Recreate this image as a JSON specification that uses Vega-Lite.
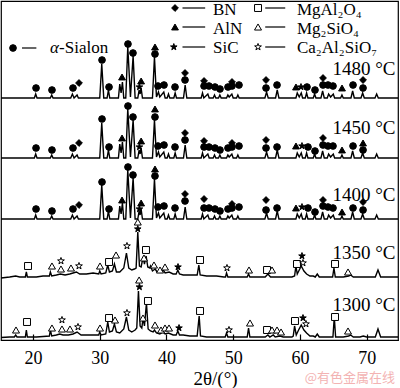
{
"$schema":"https://vega.github.io/schema/vega-lite/v6.json",
"width":397,"height":339,
"autosize":{"type":"none"},
"padding":{"left":1,"top":1,"right":2,"bottom":48},
"background":"white",
"config":{"view":{"stroke":"black","strokeWidth":1.2},"font":"Liberation Serif"},
"datasets":{
"lines":[
{"s":"1480","x":15.2,"y":242},{"s":"1480","x":20.2,"y":242},{"s":"1480","x":20.4,"y":246},{"s":"1480","x":20.6,"y":242},{"s":"1480","x":22.6,"y":242},{"s":"1480","x":22.8,"y":245},{"s":"1480","x":23.0,"y":242},{"s":"1480","x":25.65,"y":242},{"s":"1480","x":25.9,"y":246},{"s":"1480","x":26.15,"y":242},{"s":"1480","x":26.6,"y":245},{"s":"1480","x":26.8,"y":242},{"s":"1480","x":30.0,"y":242},{"s":"1480","x":30.3,"y":276},{"s":"1480","x":30.6,"y":242},{"s":"1480","x":31.1,"y":242},{"s":"1480","x":31.3,"y":250},{"s":"1480","x":31.5,"y":242},{"s":"1480","x":32.8,"y":242},{"s":"1480","x":33.0,"y":256},{"s":"1480","x":33.2,"y":247},{"s":"1480","x":33.4,"y":258},{"s":"1480","x":33.6,"y":242},{"s":"1480","x":33.9,"y":242},{"s":"1480","x":34.2,"y":293},{"s":"1480","x":34.6,"y":243},{"s":"1480","x":35.0,"y":284},{"s":"1480","x":35.3,"y":242},{"s":"1480","x":35.7,"y":242},{"s":"1480","x":35.9,"y":250},{"s":"1480","x":36.05,"y":246},{"s":"1480","x":36.2,"y":252},{"s":"1480","x":36.4,"y":242},{"s":"1480","x":37.9,"y":242},{"s":"1480","x":38.2,"y":283},{"s":"1480","x":38.5,"y":243},{"s":"1480","x":38.8,"y":248},{"s":"1480","x":39.0,"y":243},{"s":"1480","x":39.6,"y":248},{"s":"1480","x":39.8,"y":242},{"s":"1480","x":40.1,"y":242},{"s":"1480","x":40.3,"y":246},{"s":"1480","x":40.5,"y":242},{"s":"1480","x":41.1,"y":242},{"s":"1480","x":41.3,"y":247},{"s":"1480","x":41.5,"y":242},{"s":"1480","x":42.55,"y":242},{"s":"1480","x":42.8,"y":255},{"s":"1480","x":43.05,"y":242},{"s":"1480","x":45.2,"y":242},{"s":"1480","x":45.4,"y":247},{"s":"1480","x":45.6,"y":242},{"s":"1480","x":46.2,"y":246},{"s":"1480","x":46.4,"y":242},{"s":"1480","x":47.0,"y":242},{"s":"1480","x":47.2,"y":245},{"s":"1480","x":47.4,"y":242},{"s":"1480","x":47.8,"y":242},{"s":"1480","x":48.0,"y":245},{"s":"1480","x":48.2,"y":242},{"s":"1480","x":49.0,"y":242},{"s":"1480","x":49.2,"y":245},{"s":"1480","x":49.4,"y":243},{"s":"1480","x":49.8,"y":246},{"s":"1480","x":50.0,"y":242},{"s":"1480","x":50.5,"y":242},{"s":"1480","x":50.7,"y":245},{"s":"1480","x":50.9,"y":242},{"s":"1480","x":54.75,"y":242},{"s":"1480","x":55.0,"y":248},{"s":"1480","x":55.25,"y":242},{"s":"1480","x":56.35,"y":242},{"s":"1480","x":56.6,"y":250},{"s":"1480","x":56.85,"y":242},{"s":"1480","x":59.4,"y":242},{"s":"1480","x":59.6,"y":247},{"s":"1480","x":59.9,"y":243},{"s":"1480","x":60.2,"y":247},{"s":"1480","x":60.4,"y":242},{"s":"1480","x":60.8,"y":242},{"s":"1480","x":61.0,"y":247},{"s":"1480","x":61.2,"y":242},{"s":"1480","x":62.0,"y":242},{"s":"1480","x":62.2,"y":246},{"s":"1480","x":62.4,"y":242},{"s":"1480","x":63.15,"y":242},{"s":"1480","x":63.4,"y":249},{"s":"1480","x":63.65,"y":242},{"s":"1480","x":64.1,"y":242},{"s":"1480","x":64.3,"y":246},{"s":"1480","x":64.6,"y":243},{"s":"1480","x":65.0,"y":246},{"s":"1480","x":65.2,"y":242},{"s":"1480","x":66.1,"y":242},{"s":"1480","x":66.3,"y":245},{"s":"1480","x":66.5,"y":242},{"s":"1480","x":67.65,"y":242},{"s":"1480","x":67.9,"y":249},{"s":"1480","x":68.15,"y":242},{"s":"1480","x":69.15,"y":242},{"s":"1480","x":69.4,"y":247},{"s":"1480","x":69.65,"y":242},{"s":"1480","x":71.25,"y":242},{"s":"1480","x":71.5,"y":246},{"s":"1480","x":71.75,"y":242},{"s":"1480","x":74.7,"y":242},
{"s":"1450","x":15.2,"y":182},{"s":"1450","x":20.2,"y":182},{"s":"1450","x":20.4,"y":186},{"s":"1450","x":20.6,"y":182},{"s":"1450","x":22.6,"y":182},{"s":"1450","x":22.8,"y":185},{"s":"1450","x":23.0,"y":182},{"s":"1450","x":25.65,"y":182},{"s":"1450","x":25.9,"y":186},{"s":"1450","x":26.15,"y":182},{"s":"1450","x":26.6,"y":185},{"s":"1450","x":26.8,"y":182},{"s":"1450","x":30.0,"y":182},{"s":"1450","x":30.3,"y":217},{"s":"1450","x":30.6,"y":182},{"s":"1450","x":31.1,"y":182},{"s":"1450","x":31.3,"y":190},{"s":"1450","x":31.5,"y":182},{"s":"1450","x":32.8,"y":182},{"s":"1450","x":33.0,"y":196},{"s":"1450","x":33.2,"y":187},{"s":"1450","x":33.4,"y":198},{"s":"1450","x":33.6,"y":182},{"s":"1450","x":33.9,"y":182},{"s":"1450","x":34.2,"y":231},{"s":"1450","x":34.6,"y":183},{"s":"1450","x":35.0,"y":220},{"s":"1450","x":35.3,"y":182},{"s":"1450","x":35.7,"y":182},{"s":"1450","x":35.9,"y":190},{"s":"1450","x":36.05,"y":186},{"s":"1450","x":36.2,"y":192},{"s":"1450","x":36.4,"y":182},{"s":"1450","x":37.9,"y":182},{"s":"1450","x":38.2,"y":220},{"s":"1450","x":38.5,"y":183},{"s":"1450","x":38.8,"y":188},{"s":"1450","x":39.0,"y":183},{"s":"1450","x":39.6,"y":188},{"s":"1450","x":39.8,"y":182},{"s":"1450","x":40.1,"y":182},{"s":"1450","x":40.3,"y":186},{"s":"1450","x":40.5,"y":182},{"s":"1450","x":41.1,"y":182},{"s":"1450","x":41.3,"y":187},{"s":"1450","x":41.5,"y":182},{"s":"1450","x":42.55,"y":182},{"s":"1450","x":42.8,"y":195},{"s":"1450","x":43.05,"y":182},{"s":"1450","x":45.2,"y":182},{"s":"1450","x":45.4,"y":187},{"s":"1450","x":45.6,"y":182},{"s":"1450","x":46.2,"y":186},{"s":"1450","x":46.4,"y":182},{"s":"1450","x":47.0,"y":182},{"s":"1450","x":47.2,"y":185},{"s":"1450","x":47.4,"y":182},{"s":"1450","x":47.8,"y":182},{"s":"1450","x":48.0,"y":185},{"s":"1450","x":48.2,"y":182},{"s":"1450","x":49.0,"y":182},{"s":"1450","x":49.2,"y":185},{"s":"1450","x":49.4,"y":183},{"s":"1450","x":49.8,"y":186},{"s":"1450","x":50.0,"y":182},{"s":"1450","x":50.5,"y":182},{"s":"1450","x":50.7,"y":185},{"s":"1450","x":50.9,"y":182},{"s":"1450","x":54.75,"y":182},{"s":"1450","x":55.0,"y":188},{"s":"1450","x":55.25,"y":182},{"s":"1450","x":56.35,"y":182},{"s":"1450","x":56.6,"y":190},{"s":"1450","x":56.85,"y":182},{"s":"1450","x":59.4,"y":182},{"s":"1450","x":59.6,"y":187},{"s":"1450","x":59.9,"y":183},{"s":"1450","x":60.2,"y":187},{"s":"1450","x":60.4,"y":182},{"s":"1450","x":60.8,"y":182},{"s":"1450","x":61.0,"y":187},{"s":"1450","x":61.2,"y":182},{"s":"1450","x":62.0,"y":182},{"s":"1450","x":62.2,"y":186},{"s":"1450","x":62.4,"y":182},{"s":"1450","x":63.15,"y":182},{"s":"1450","x":63.4,"y":189},{"s":"1450","x":63.65,"y":182},{"s":"1450","x":64.1,"y":182},{"s":"1450","x":64.3,"y":186},{"s":"1450","x":64.6,"y":183},{"s":"1450","x":65.0,"y":186},{"s":"1450","x":65.2,"y":182},{"s":"1450","x":66.1,"y":182},{"s":"1450","x":66.3,"y":185},{"s":"1450","x":66.5,"y":182},{"s":"1450","x":67.65,"y":182},{"s":"1450","x":67.9,"y":189},{"s":"1450","x":68.15,"y":182},{"s":"1450","x":69.15,"y":182},{"s":"1450","x":69.4,"y":187},{"s":"1450","x":69.65,"y":182},{"s":"1450","x":71.25,"y":182},{"s":"1450","x":71.5,"y":186},{"s":"1450","x":71.75,"y":182},{"s":"1450","x":74.7,"y":182},
{"s":"1400","x":15.2,"y":121},{"s":"1400","x":20.2,"y":121},{"s":"1400","x":20.4,"y":125},{"s":"1400","x":20.6,"y":121},{"s":"1400","x":22.6,"y":121},{"s":"1400","x":22.8,"y":124},{"s":"1400","x":23.0,"y":121},{"s":"1400","x":25.65,"y":121},{"s":"1400","x":25.9,"y":125},{"s":"1400","x":26.15,"y":121},{"s":"1400","x":26.6,"y":124},{"s":"1400","x":26.8,"y":121},{"s":"1400","x":30.0,"y":121},{"s":"1400","x":30.3,"y":155},{"s":"1400","x":30.6,"y":121},{"s":"1400","x":31.1,"y":121},{"s":"1400","x":31.3,"y":129},{"s":"1400","x":31.5,"y":121},{"s":"1400","x":32.8,"y":121},{"s":"1400","x":33.0,"y":134},{"s":"1400","x":33.2,"y":126},{"s":"1400","x":33.4,"y":137},{"s":"1400","x":33.6,"y":121},{"s":"1400","x":33.9,"y":121},{"s":"1400","x":34.2,"y":170},{"s":"1400","x":34.6,"y":122},{"s":"1400","x":35.0,"y":162},{"s":"1400","x":35.3,"y":121},{"s":"1400","x":35.7,"y":121},{"s":"1400","x":35.9,"y":129},{"s":"1400","x":36.05,"y":125},{"s":"1400","x":36.2,"y":131},{"s":"1400","x":36.4,"y":121},{"s":"1400","x":37.9,"y":121},{"s":"1400","x":38.2,"y":161},{"s":"1400","x":38.5,"y":122},{"s":"1400","x":38.8,"y":127},{"s":"1400","x":39.0,"y":122},{"s":"1400","x":39.6,"y":127},{"s":"1400","x":39.8,"y":121},{"s":"1400","x":40.1,"y":121},{"s":"1400","x":40.3,"y":125},{"s":"1400","x":40.5,"y":121},{"s":"1400","x":41.1,"y":121},{"s":"1400","x":41.3,"y":126},{"s":"1400","x":41.5,"y":121},{"s":"1400","x":42.55,"y":121},{"s":"1400","x":42.8,"y":133},{"s":"1400","x":43.05,"y":121},{"s":"1400","x":45.2,"y":121},{"s":"1400","x":45.4,"y":126},{"s":"1400","x":45.6,"y":121},{"s":"1400","x":46.2,"y":125},{"s":"1400","x":46.4,"y":121},{"s":"1400","x":47.0,"y":121},{"s":"1400","x":47.2,"y":124},{"s":"1400","x":47.4,"y":121},{"s":"1400","x":47.8,"y":121},{"s":"1400","x":48.0,"y":124},{"s":"1400","x":48.2,"y":121},{"s":"1400","x":49.0,"y":121},{"s":"1400","x":49.2,"y":124},{"s":"1400","x":49.4,"y":122},{"s":"1400","x":49.8,"y":125},{"s":"1400","x":50.0,"y":121},{"s":"1400","x":50.5,"y":121},{"s":"1400","x":50.7,"y":124},{"s":"1400","x":50.9,"y":121},{"s":"1400","x":54.75,"y":121},{"s":"1400","x":55.0,"y":127},{"s":"1400","x":55.25,"y":121},{"s":"1400","x":56.35,"y":121},{"s":"1400","x":56.6,"y":129},{"s":"1400","x":56.85,"y":121},{"s":"1400","x":59.4,"y":121},{"s":"1400","x":59.6,"y":126},{"s":"1400","x":59.9,"y":122},{"s":"1400","x":60.2,"y":126},{"s":"1400","x":60.4,"y":121},{"s":"1400","x":60.8,"y":121},{"s":"1400","x":61.0,"y":126},{"s":"1400","x":61.2,"y":121},{"s":"1400","x":62.0,"y":121},{"s":"1400","x":62.2,"y":125},{"s":"1400","x":62.4,"y":121},{"s":"1400","x":63.15,"y":121},{"s":"1400","x":63.4,"y":128},{"s":"1400","x":63.65,"y":121},{"s":"1400","x":64.1,"y":121},{"s":"1400","x":64.3,"y":125},{"s":"1400","x":64.6,"y":122},{"s":"1400","x":65.0,"y":125},{"s":"1400","x":65.2,"y":121},{"s":"1400","x":66.1,"y":121},{"s":"1400","x":66.3,"y":124},{"s":"1400","x":66.5,"y":121},{"s":"1400","x":67.65,"y":121},{"s":"1400","x":67.9,"y":128},{"s":"1400","x":68.15,"y":121},{"s":"1400","x":69.15,"y":121},{"s":"1400","x":69.4,"y":126},{"s":"1400","x":69.65,"y":121},{"s":"1400","x":71.25,"y":121},{"s":"1400","x":71.5,"y":125},{"s":"1400","x":71.75,"y":121},{"s":"1400","x":74.7,"y":121},
{"s":"1350","x":15.2,"y":62},{"s":"1350","x":16.5,"y":63},{"s":"1350","x":17.4,"y":64},{"s":"1350","x":18.0,"y":63},{"s":"1350","x":18.85,"y":63},{"s":"1350","x":19.0,"y":68},{"s":"1350","x":19.15,"y":63},{"s":"1350","x":20.5,"y":63},{"s":"1350","x":21.5,"y":64},{"s":"1350","x":22.45,"y":64},{"s":"1350","x":22.6,"y":68},{"s":"1350","x":22.8,"y":64},{"s":"1350","x":23.5,"y":65},{"s":"1350","x":24.1,"y":66},{"s":"1350","x":24.8,"y":65},{"s":"1350","x":25.5,"y":66},{"s":"1350","x":26.0,"y":67},{"s":"1350","x":26.5,"y":68},{"s":"1350","x":27.0,"y":66},{"s":"1350","x":28.0,"y":66},{"s":"1350","x":29.0,"y":67},{"s":"1350","x":29.85,"y":66},{"s":"1350","x":30.0,"y":69},{"s":"1350","x":30.2,"y":66},{"s":"1350","x":30.9,"y":67},{"s":"1350","x":31.2,"y":75},{"s":"1350","x":31.45,"y":68},{"s":"1350","x":31.9,"y":69},{"s":"1350","x":32.2,"y":76},{"s":"1350","x":32.5,"y":68},{"s":"1350","x":33.0,"y":68},{"s":"1350","x":33.6,"y":72},{"s":"1350","x":34.0,"y":87},{"s":"1350","x":34.35,"y":72},{"s":"1350","x":34.8,"y":70},{"s":"1350","x":35.2,"y":71},{"s":"1350","x":35.45,"y":72},{"s":"1350","x":35.7,"y":108},{"s":"1350","x":35.95,"y":74},{"s":"1350","x":36.2,"y":73},{"s":"1350","x":36.5,"y":83},{"s":"1350","x":36.7,"y":76},{"s":"1350","x":36.95,"y":84},{"s":"1350","x":37.2,"y":73},{"s":"1350","x":37.5,"y":72},{"s":"1350","x":37.6,"y":74},{"s":"1350","x":37.9,"y":69},{"s":"1350","x":38.3,"y":71},{"s":"1350","x":38.6,"y":68},{"s":"1350","x":39.0,"y":68},{"s":"1350","x":39.5,"y":70},{"s":"1350","x":39.8,"y":67},{"s":"1350","x":40.4,"y":68},{"s":"1350","x":41.0,"y":66},{"s":"1350","x":41.45,"y":66},{"s":"1350","x":41.7,"y":70},{"s":"1350","x":41.95,"y":66},{"s":"1350","x":42.5,"y":65},{"s":"1350","x":43.5,"y":65},{"s":"1350","x":44.6,"y":65},{"s":"1350","x":44.85,"y":75},{"s":"1350","x":45.05,"y":65},{"s":"1350","x":46.0,"y":64},{"s":"1350","x":47.5,"y":64},{"s":"1350","x":48.6,"y":63},{"s":"1350","x":48.85,"y":63},{"s":"1350","x":49.0,"y":67},{"s":"1350","x":49.2,"y":63},{"s":"1350","x":50.5,"y":63},{"s":"1350","x":51.5,"y":63},{"s":"1350","x":52.1,"y":63},{"s":"1350","x":52.3,"y":66},{"s":"1350","x":52.5,"y":63},{"s":"1350","x":53.5,"y":63},{"s":"1350","x":54.8,"y":63},{"s":"1350","x":55.2,"y":66},{"s":"1350","x":55.6,"y":63},{"s":"1350","x":56.5,"y":63},{"s":"1350","x":57.5,"y":63},{"s":"1350","x":58.8,"y":63},{"s":"1350","x":59.2,"y":64},{"s":"1350","x":59.4,"y":74},{"s":"1350","x":59.6,"y":66},{"s":"1350","x":59.9,"y":70},{"s":"1350","x":60.2,"y":74},{"s":"1350","x":60.6,"y":69},{"s":"1350","x":61.0,"y":66},{"s":"1350","x":61.5,"y":64},{"s":"1350","x":62.0,"y":64},{"s":"1350","x":62.3,"y":63},{"s":"1350","x":62.6,"y":66},{"s":"1350","x":62.9,"y":63},{"s":"1350","x":64.0,"y":63},{"s":"1350","x":64.9,"y":63},{"s":"1350","x":65.1,"y":72},{"s":"1350","x":65.3,"y":63},{"s":"1350","x":66.5,"y":63},{"s":"1350","x":67.3,"y":64},{"s":"1350","x":67.6,"y":65},{"s":"1350","x":68.0,"y":63},{"s":"1350","x":69.0,"y":63},{"s":"1350","x":70.0,"y":63},{"s":"1350","x":71.3,"y":63},{"s":"1350","x":71.7,"y":70},{"s":"1350","x":72.1,"y":63},{"s":"1350","x":73.5,"y":63},{"s":"1350","x":74.7,"y":63},
{"s":"1300","x":15.2,"y":2.5},{"s":"1300","x":16.5,"y":3},{"s":"1300","x":17.2,"y":3},{"s":"1300","x":17.4,"y":5},{"s":"1300","x":17.6,"y":3},{"s":"1300","x":18.85,"y":3},{"s":"1300","x":19.0,"y":10},{"s":"1300","x":19.15,"y":3},{"s":"1300","x":20.5,"y":3},{"s":"1300","x":21.5,"y":3.5},{"s":"1300","x":22.45,"y":4},{"s":"1300","x":22.6,"y":10},{"s":"1300","x":22.8,"y":4},{"s":"1300","x":23.5,"y":5},{"s":"1300","x":24.0,"y":6},{"s":"1300","x":24.5,"y":5},{"s":"1300","x":25.3,"y":5},{"s":"1300","x":26.0,"y":6},{"s":"1300","x":26.6,"y":8},{"s":"1300","x":27.2,"y":5},{"s":"1300","x":28.5,"y":5},{"s":"1300","x":29.5,"y":5},{"s":"1300","x":29.85,"y":5},{"s":"1300","x":30.0,"y":8},{"s":"1300","x":30.2,"y":5},{"s":"1300","x":30.9,"y":6},{"s":"1300","x":31.2,"y":18},{"s":"1300","x":31.45,"y":8},{"s":"1300","x":31.9,"y":9},{"s":"1300","x":32.2,"y":16},{"s":"1300","x":32.5,"y":8},{"s":"1300","x":33.0,"y":7},{"s":"1300","x":33.6,"y":11},{"s":"1300","x":34.0,"y":23},{"s":"1300","x":34.35,"y":10},{"s":"1300","x":34.8,"y":8},{"s":"1300","x":35.3,"y":10},{"s":"1300","x":35.55,"y":12},{"s":"1300","x":35.8,"y":49},{"s":"1300","x":36.05,"y":14},{"s":"1300","x":36.3,"y":12},{"s":"1300","x":36.5,"y":22},{"s":"1300","x":36.7,"y":14},{"s":"1300","x":37.0,"y":37},{"s":"1300","x":37.25,"y":11},{"s":"1300","x":37.6,"y":9},{"s":"1300","x":38.0,"y":8},{"s":"1300","x":38.2,"y":10},{"s":"1300","x":38.5,"y":7},{"s":"1300","x":39.0,"y":6},{"s":"1300","x":39.5,"y":8},{"s":"1300","x":39.8,"y":6},{"s":"1300","x":40.3,"y":7},{"s":"1300","x":41.0,"y":5},{"s":"1300","x":41.45,"y":5},{"s":"1300","x":41.7,"y":9},{"s":"1300","x":41.95,"y":5},{"s":"1300","x":42.5,"y":5},{"s":"1300","x":43.5,"y":4},{"s":"1300","x":44.6,"y":4},{"s":"1300","x":44.9,"y":24},{"s":"1300","x":45.1,"y":4},{"s":"1300","x":46.0,"y":3},{"s":"1300","x":47.5,"y":3},{"s":"1300","x":48.6,"y":3},{"s":"1300","x":48.8,"y":3},{"s":"1300","x":49.0,"y":7},{"s":"1300","x":49.2,"y":3},{"s":"1300","x":50.5,"y":3},{"s":"1300","x":51.8,"y":3},{"s":"1300","x":52.1,"y":3},{"s":"1300","x":52.3,"y":12},{"s":"1300","x":52.5,"y":3},{"s":"1300","x":53.5,"y":3},{"s":"1300","x":54.8,"y":3},{"s":"1300","x":55.2,"y":5},{"s":"1300","x":55.5,"y":3},{"s":"1300","x":56.0,"y":5},{"s":"1300","x":56.3,"y":3},{"s":"1300","x":57.0,"y":4},{"s":"1300","x":57.5,"y":3},{"s":"1300","x":58.8,"y":3},{"s":"1300","x":59.0,"y":4},{"s":"1300","x":59.2,"y":14},{"s":"1300","x":59.45,"y":5},{"s":"1300","x":59.8,"y":10},{"s":"1300","x":60.2,"y":15},{"s":"1300","x":60.6,"y":10},{"s":"1300","x":61.0,"y":7},{"s":"1300","x":61.5,"y":4},{"s":"1300","x":62.0,"y":4},{"s":"1300","x":62.3,"y":3},{"s":"1300","x":62.6,"y":6},{"s":"1300","x":62.9,"y":3},{"s":"1300","x":64.0,"y":3},{"s":"1300","x":64.95,"y":3},{"s":"1300","x":65.15,"y":23},{"s":"1300","x":65.35,"y":3},{"s":"1300","x":66.5,"y":3},{"s":"1300","x":67.3,"y":4},{"s":"1300","x":67.6,"y":5},{"s":"1300","x":68.0,"y":3},{"s":"1300","x":69.0,"y":3},{"s":"1300","x":69.5,"y":4},{"s":"1300","x":70.0,"y":3},{"s":"1300","x":71.3,"y":3},{"s":"1300","x":71.7,"y":11},{"s":"1300","x":72.1,"y":3},{"s":"1300","x":73.5,"y":3},{"s":"1300","x":74.7,"y":3}
],
"markers":[
{"p":"a","x":20.45,"y":252},{"p":"a","x":22.84,"y":250},{"p":"a","x":25.99,"y":252},{"p":"b","x":26.89,"y":257},{"p":"a","x":30.34,"y":280},{"p":"a","x":31.39,"y":253},{"p":"n","x":33.34,"y":263},{"p":"a","x":34.23,"y":296},{"p":"a","x":34.98,"y":287},{"p":"c","x":35.95,"y":253},{"p":"n","x":36.2,"y":259},{"p":"n","x":38.28,"y":293},{"p":"a","x":38.28,"y":286},{"p":"a","x":38.73,"y":254},{"p":"a","x":39.63,"y":255},{"p":"a","x":41.28,"y":253},{"p":"b","x":42.78,"y":267},{"p":"a","x":42.78,"y":260},{"p":"b","x":45.63,"y":259},{"p":"a","x":45.63,"y":254},{"p":"a","x":46.37,"y":254},{"p":"a","x":47.27,"y":253},{"p":"a","x":48.02,"y":251},{"p":"a","x":49.22,"y":253},{"p":"b","x":49.82,"y":258},{"p":"a","x":49.82,"y":254},{"p":"a","x":50.87,"y":255},{"p":"b","x":54.92,"y":260},{"p":"a","x":54.92,"y":252},{"p":"a","x":56.57,"y":255},{"p":"n","x":59.41,"y":253},{"p":"c","x":60.16,"y":253},{"p":"a","x":61.06,"y":253},{"p":"a","x":62.26,"y":250},{"p":"b","x":63.46,"y":262},{"p":"a","x":63.46,"y":255},{"p":"a","x":64.21,"y":255},{"p":"a","x":64.96,"y":254},{"p":"n","x":66.31,"y":252},{"p":"a","x":67.96,"y":255},{"p":"b","x":69.46,"y":260},{"p":"a","x":69.46,"y":252},
{"p":"a","x":20.45,"y":192},{"p":"a","x":22.84,"y":190},{"p":"a","x":25.99,"y":192},{"p":"b","x":26.89,"y":197},{"p":"a","x":30.34,"y":221},{"p":"a","x":31.39,"y":193},{"p":"n","x":33.34,"y":202},{"p":"a","x":34.23,"y":234},{"p":"a","x":34.98,"y":223},{"p":"c","x":35.95,"y":193},{"p":"n","x":36.2,"y":199},{"p":"n","x":38.28,"y":231},{"p":"a","x":38.28,"y":223},{"p":"a","x":38.73,"y":194},{"p":"a","x":39.63,"y":195},{"p":"a","x":41.28,"y":193},{"p":"b","x":42.78,"y":207},{"p":"a","x":42.78,"y":200},{"p":"b","x":45.63,"y":199},{"p":"a","x":45.63,"y":193},{"p":"a","x":46.37,"y":193},{"p":"a","x":47.27,"y":192},{"p":"a","x":48.02,"y":190},{"p":"a","x":49.22,"y":192},{"p":"b","x":49.82,"y":197},{"p":"a","x":49.82,"y":193},{"p":"a","x":50.87,"y":194},{"p":"b","x":54.92,"y":200},{"p":"a","x":54.92,"y":192},{"p":"a","x":56.57,"y":193},{"p":"n","x":59.41,"y":194},{"p":"c","x":60.31,"y":194},{"p":"a","x":61.21,"y":193},{"p":"a","x":62.26,"y":189},{"p":"b","x":63.46,"y":202},{"p":"a","x":63.46,"y":195},{"p":"a","x":64.21,"y":194},{"p":"a","x":64.96,"y":194},{"p":"n","x":66.31,"y":190},{"p":"a","x":67.96,"y":194},{"p":"n","x":69.46,"y":197},{"p":"a","x":69.46,"y":190},
{"p":"a","x":20.45,"y":131},{"p":"a","x":22.84,"y":129},{"p":"a","x":25.99,"y":131},{"p":"b","x":26.89,"y":135},{"p":"a","x":30.34,"y":158},{"p":"a","x":31.39,"y":131},{"p":"n","x":33.34,"y":140},{"p":"a","x":34.23,"y":173},{"p":"a","x":34.98,"y":165},{"p":"c","x":35.95,"y":131},{"p":"n","x":36.2,"y":137},{"p":"n","x":38.28,"y":171},{"p":"a","x":38.28,"y":164},{"p":"a","x":38.73,"y":133},{"p":"a","x":39.63,"y":134},{"p":"a","x":41.28,"y":132},{"p":"b","x":42.78,"y":146},{"p":"a","x":42.78,"y":139},{"p":"b","x":45.63,"y":141},{"p":"a","x":45.63,"y":132},{"p":"a","x":46.37,"y":132},{"p":"a","x":47.27,"y":131},{"p":"a","x":48.02,"y":129},{"p":"a","x":49.22,"y":131},{"p":"b","x":49.82,"y":136},{"p":"a","x":49.82,"y":132},{"p":"a","x":50.87,"y":133},{"p":"b","x":54.92,"y":140},{"p":"a","x":54.92,"y":130},{"p":"a","x":56.57,"y":132},{"p":"n","x":59.41,"y":132},{"p":"c","x":60.31,"y":133},{"p":"a","x":61.21,"y":132},{"p":"a","x":62.26,"y":128},{"p":"b","x":63.46,"y":140},{"p":"a","x":63.46,"y":134},{"p":"a","x":64.21,"y":133},{"p":"a","x":64.96,"y":132},{"p":"n","x":66.31,"y":128},{"p":"a","x":67.96,"y":132},{"p":"b","x":69.46,"y":138},{"p":"a","x":69.46,"y":130},
{"p":"m","x":19.25,"y":74},{"p":"f","x":22.84,"y":74},{"p":"k","x":24.19,"y":79},{"p":"f","x":24.19,"y":71},{"p":"f","x":25.69,"y":72},{"p":"k","x":26.89,"y":74},{"p":"f","x":30.04,"y":74},{"p":"m","x":31.39,"y":78},{"p":"f","x":32.44,"y":85},{"p":"k","x":34.08,"y":94},{"p":"f","x":35.7,"y":118},{"p":"c","x":35.7,"y":111},{"p":"m","x":36.93,"y":90},{"p":"f","x":36.63,"y":82},{"p":"f","x":38.13,"y":75},{"p":"f","x":39.03,"y":70},{"p":"f","x":39.78,"y":73},{"p":"c","x":41.73,"y":73},{"p":"m","x":45.03,"y":80},{"p":"k","x":49.07,"y":72},{"p":"f","x":52.37,"y":70},{"p":"m","x":55.07,"y":70},{"p":"f","x":55.82,"y":70},{"p":"m","x":59.56,"y":76},{"p":"c","x":60.31,"y":84},{"p":"k","x":60.46,"y":77},{"p":"m","x":65.26,"y":76},{"p":"f","x":67.21,"y":68},
{"p":"f","x":17.45,"y":10},{"p":"m","x":19.1,"y":18},{"p":"f","x":22.84,"y":12},{"p":"k","x":24.34,"y":20},{"p":"f","x":24.34,"y":11},{"p":"f","x":25.54,"y":11},{"p":"k","x":26.74,"y":13},{"p":"f","x":30.04,"y":12},{"p":"m","x":31.39,"y":22},{"p":"f","x":32.29,"y":20},{"p":"k","x":34.08,"y":27},{"p":"f","x":35.9,"y":60},{"p":"c","x":35.95,"y":53},{"p":"m","x":37.23,"y":39},{"p":"f","x":36.48,"y":22},{"p":"f","x":38.28,"y":15},{"p":"f","x":39.18,"y":10},{"p":"f","x":39.78,"y":12},{"p":"f","x":40.38,"y":12},{"p":"c","x":41.88,"y":12},{"p":"m","x":45.03,"y":29},{"p":"k","x":49.37,"y":10},{"p":"f","x":52.52,"y":17},{"p":"m","x":55.07,"y":10},{"p":"f","x":55.82,"y":10},{"p":"f","x":56.57,"y":10},{"p":"f","x":57.17,"y":8},{"p":"m","x":59.26,"y":19},{"p":"c","x":60.46,"y":22},{"p":"k","x":60.91,"y":16},{"p":"m","x":65.26,"y":23},{"p":"f","x":67.21,"y":9},
{"p":"b","x":41.28,"y":332},{"p":"n","x":41.28,"y":313},{"p":"c","x":41.1,"y":293},{"p":"m","x":53.72,"y":332},{"p":"f","x":53.72,"y":313},{"p":"k","x":53.72,"y":293},{"p":"a","x":17.0,"y":292}
],
"rules":[
{"x":42.4,"x2":45.8,"y":332},{"x":42.4,"x2":45.8,"y":313},{"x":42.4,"x2":45.8,"y":293},{"x":54.8,"x2":57.8,"y":332},{"x":54.8,"x2":57.8,"y":313},{"x":54.8,"x2":57.8,"y":293},{"x":18.35,"x2":20.5,"y":292}
],
"ltext":[
{"x":46.97,"y":330,"t":"BN"},{"x":46.97,"y":311,"t":"AlN"},{"x":46.97,"y":292,"t":"SiC"},{"x":59.56,"y":330,"t":"MgAl₂O₄"},{"x":59.56,"y":311,"t":"Mg₂SiO₄"},{"x":59.56,"y":292,"t":"Ca₂Al₂SiO₇"},{"x":23.9,"y":292,"t":"-Sialon"}
],
"itext":[{"x":22.54,"y":292,"t":"α"}],
"rtext":[
{"x":74.33,"y":271,"t":"1480 °C"},{"x":74.33,"y":212,"t":"1450 °C"},{"x":74.33,"y":145,"t":"1400 °C"},{"x":74.33,"y":87,"t":"1350 °C"},{"x":74.33,"y":35,"t":"1300 °C"}
],
"wm":[{"x":74.25,"y":-38,"t":"@有色金属在线"}]
},
"encoding":{
"x":{"field":"x","type":"quantitative","scale":{"domain":[15.2,74.7],"nice":false,"zero":false},
 "axis":{"values":[20,30,40,50,60,70],"grid":false,"domainColor":"black","domainWidth":1.2,"tickColor":"black","tickWidth":1.2,"tickSize":-6,"labelFont":"Liberation Serif","labelFontSize":18,"labelColor":"black","labelPadding":24,"labelBaseline":"middle","labelFlush":false,"labelOverlap":false,"title":"2θ/(°)","titleFont":"Liberation Serif","titleFontSize":19,"titleFontWeight":"normal","titleColor":"black","titleX":214,"titleY":38,"titleBaseline":"middle"}},
"y":{"field":"y","type":"quantitative","scale":{"domain":[0,339],"nice":false,"zero":false},"axis":null}
},
"layer":[
{"data":{"name":"lines"},"mark":{"type":"line","color":"black","strokeWidth":1.4},"encoding":{"detail":{"field":"s","type":"nominal"}}},
{"data":{"name":"rules"},"mark":{"type":"rule","color":"black","strokeWidth":1.2},"encoding":{"x2":{"field":"x2"}}},
{"data":{"name":"markers"},"mark":{"type":"point","filled":true,"opacity":1,"stroke":"black","strokeWidth":1},
 "encoding":{
  "shape":{"field":"p","type":"nominal","scale":{"domain":["a","b","n","c","m","f","k"],"range":["circle","diamond","triangle-up","M0,-1L0.235,-0.324L0.951,-0.309L0.38,0.124L0.588,0.809L0,0.4L-0.588,0.809L-0.38,0.124L-0.951,-0.309L-0.235,-0.324Z","square","triangle-up","M0,-1L0.235,-0.324L0.951,-0.309L0.38,0.124L0.588,0.809L0,0.4L-0.588,0.809L-0.38,0.124L-0.951,-0.309L-0.235,-0.324Z"]},"legend":null},
  "fill":{"field":"p","type":"nominal","scale":{"domain":["a","b","n","c","m","f","k"],"range":["black","black","black","black","white","white","white"]},"legend":null},
  "size":{"field":"p","type":"nominal","scale":{"domain":["a","b","n","c","m","f","k"],"range":[45,50,50,75,40,50,75]},"legend":null}
 }},
{"data":{"name":"ltext"},"mark":{"type":"text","align":"left","baseline":"middle","font":"Liberation Serif","fontSize":17,"color":"black"},"encoding":{"text":{"field":"t"}}},
{"data":{"name":"itext"},"mark":{"type":"text","align":"left","baseline":"middle","font":"Liberation Serif","fontStyle":"italic","fontSize":17,"color":"black"},"encoding":{"text":{"field":"t"}}},
{"data":{"name":"rtext"},"mark":{"type":"text","align":"right","baseline":"middle","font":"Liberation Serif","fontSize":19,"color":"black"},"encoding":{"text":{"field":"t"}}},
{"data":{"name":"wm"},"mark":{"type":"text","align":"right","baseline":"middle","font":"Noto Sans CJK SC","fontSize":13,"color":"#f3b3b3"},"encoding":{"text":{"field":"t"}}}
]
}
